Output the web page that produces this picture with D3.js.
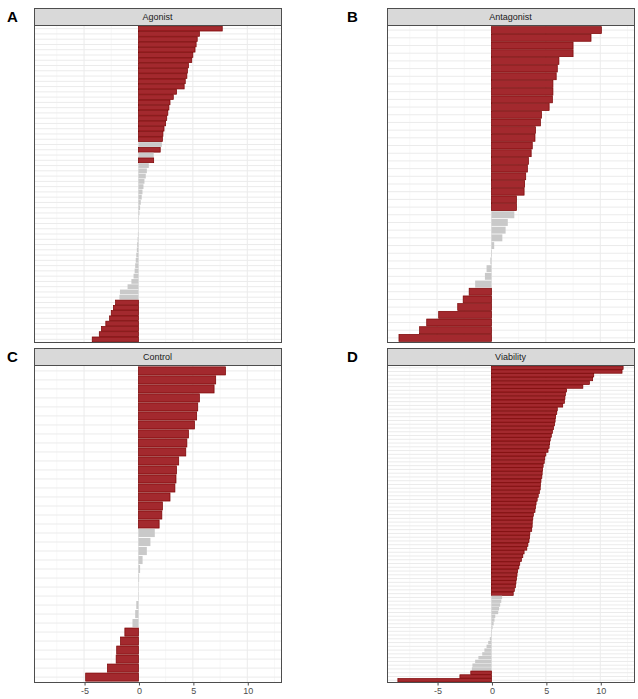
<!DOCTYPE html>
<html>
<head>
<meta charset="utf-8">
<script src="https://cdn.jsdelivr.net/npm/d3@7"></script>
<style>
	body { margin: 0; background: #fff; }
	svg { display: block; font-family: "Liberation Sans", Arial, sans-serif; }
</style>
</head>
<body>
<script>

// panel titles and letters
var titles = ['Agonist', 'Antagonist', 'Control', 'Viability'];
var letters = ['A', 'B', 'C', 'D'];
var xTicks = [-5, 0, 5, 10];

// sorted effect values per screen (top row first)
var agonistValues = [7.7, 5.6, 5.4, 5.3, 5.2, 5.0, 4.9, 4.6, 4.5, 4.45, 4.3, 4.2, 3.5, 3.2, 2.9, 2.8, 2.7, 2.6, 2.5, 2.35, 2.25, 2.2,
	2.15, 2.0, 1.4, 1.4,
	0.95, 0.77, 0.67, 0.55, 0.46, 0.37, 0.3, 0.21, 0.15, 0.09, 0.04, 0.01, -0.02, -0.05, -0.08, -0.12, -0.15, -0.2, -0.25, -0.3, -0.35, -0.45, -0.65, -1.0, -1.7, -1.75,
	-2.1, -2.3, -2.5, -2.65, -3.0, -3.4, -3.6, -4.25];
var agonistSig = [1,1,1,1,1,1,1,1,1,1,1,1,1,1,1,1,1,1,1,1,1,1,
	0,1,0,1,
	0,0,0,0,0,0,0,0,0,0,0,0,0,0,0,0,0,0,0,0,0,0,0,0,0,0,
	1,1,1,1,1,1,1,1];

var antagonistValues = [10.1, 9.15, 7.5, 7.5, 6.2, 6.05, 5.95, 5.65, 5.65, 5.6, 5.3, 4.6, 4.5, 4.05, 4.0, 3.75, 3.65, 3.4, 3.3, 3.15, 3.05, 3.0, 2.3, 2.3,
	2.1, 1.5, 1.3, 1.0, 0.25, 0.05, -0.1, -0.45, -0.6, -1.5,
	-2.05, -2.6, -3.1, -4.85, -5.95, -6.6, -8.5];
var antagonistSig = [1,1,1,1,1,1,1,1,1,1,1,1,1,1,1,1,1,1,1,1,1,1,1,1,
	0,0,0,0,0,0,0,0,0,0,
	1,1,1,1,1,1,1];

var controlValues = [8.0, 7.1, 6.95, 5.6, 5.45, 5.35, 5.15, 4.6, 4.45, 4.35, 3.7, 3.5, 3.45, 3.35, 2.9, 2.2, 2.15, 1.9,
	1.5, 1.1, 0.77, 0.38, 0.15, 0.06, 0.02, -0.03, -0.2, -0.3, -0.55,
	-1.25, -1.65, -2.0, -2.05, -2.85, -4.85];
var controlSig = [1,1,1,1,1,1,1,1,1,1,1,1,1,1,1,1,1,1,
	0,0,0,0,0,0,0,0,0,0,0,
	1,1,1,1,1,1];

var viabilityValues = [12.1, 12.0, 9.4, 9.3, 9.0, 8.4, 6.9, 6.8, 6.75, 6.7, 6.55, 6.05, 6.0, 5.9, 5.85, 5.8, 5.7, 5.6, 5.5, 5.4,
	5.35, 5.3, 5.2, 5.0, 4.9, 4.85, 4.75, 4.7, 4.66, 4.63, 4.55, 4.5, 4.48, 4.4, 4.3, 4.2, 4.1, 4.05, 4.0, 3.85,
	3.8, 3.75, 3.74, 3.7, 3.53, 3.5, 3.45, 3.35, 3.25, 3.0, 2.88, 2.75, 2.6, 2.52, 2.4, 2.35, 2.3, 2.25, 2.2, 2.1, 2.0,
	0.98, 0.9, 0.8, 0.7, 0.62, 0.35, 0.28, 0.2, 0.1, 0.05, -0.05, -0.15, -0.3, -0.45, -0.65, -0.85, -1.2, -1.5, -1.75, -1.8,
	-1.9, -2.9, -8.6];
var viabilitySig = [1,1,1,1,1,1,1,1,1,1,1,1,1,1,1,1,1,1,1,1,
	1,1,1,1,1,1,1,1,1,1,1,1,1,1,1,1,1,1,1,1,
	1,1,1,1,1,1,1,1,1,1,1,1,1,1,1,1,1,1,1,1,1,
	0,0,0,0,0,0,0,0,0,0,0,0,0,0,0,0,0,0,0,0,
	1,1,1];

(function(){

	var w = 638;
	var h = 699;
	var panelW = 247;
	var stripH = 17;
	var plotH = 317;

	var allValues = [agonistValues, antagonistValues, controlValues, viabilityValues];
	var allSig = [agonistSig, antagonistSig, controlSig, viabilitySig];
	var lefts = [34, 387, 34, 387];
	var tops = [8, 8, 348, 348];

	var svg = d3.select('body')
				.append('svg')
				.attr('width', w)
				.attr('height', h);

	// shared x scale across facets
	var x = d3.scaleLinear()
		.domain([-9.6, 13.1])
		.range([0, panelW]);

	var minorTicks = [-7.5, -2.5, 2.5, 7.5, 12.5];

	for (var p = 0; p < 4; p++) {

		var values = allValues[p];
		var sig = allSig[p];
		var rows = values.map(function(d, i){ return i; });

		var g = svg.append('g')
			.attr('transform', 'translate(' + lefts[p] + ',' + tops[p] + ')');

		// strip
		g.append('rect')
			.attr('x', 0.5)
			.attr('y', 0.5)
			.attr('width', panelW)
			.attr('height', stripH)
			.attr('fill', '#d9d9d9')
			.attr('stroke', '#4d4d4d')
			.attr('stroke-width', 1);

		g.append('text')
			.attr('x', panelW / 2)
			.attr('y', stripH / 2 + 0.5)
			.attr('text-anchor', 'middle')
			.attr('dominant-baseline', 'central')
			.attr('font-size', 9)
			.attr('fill', '#1a1a1a')
			.text(titles[p]);

		var plot = g.append('g')
			.attr('transform', 'translate(0,' + (stripH + 0.5) + ')');

		var y = d3.scaleBand()
			.domain(rows)
			.range([0, plotH])
			.paddingInner(0.1)
			.paddingOuter(0.15);

		plot.append('rect')
			.attr('x', 0.5)
			.attr('y', 0)
			.attr('width', panelW)
			.attr('height', plotH)
			.attr('fill', '#fff');

		// grid
		plot.selectAll('line.minor')
			.data(minorTicks)
			.enter()
			.append('line')
			.attr('x1', function(d){ return x(d); })
			.attr('x2', function(d){ return x(d); })
			.attr('y1', 0)
			.attr('y2', plotH)
			.attr('stroke', '#f2f2f2')
			.attr('stroke-width', 0.6);

		plot.selectAll('line.major')
			.data(xTicks)
			.enter()
			.append('line')
			.attr('x1', function(d){ return x(d); })
			.attr('x2', function(d){ return x(d); })
			.attr('y1', 0)
			.attr('y2', plotH)
			.attr('stroke', '#ebebeb')
			.attr('stroke-width', 1);

		plot.selectAll('line.row')
			.data(rows)
			.enter()
			.append('line')
			.attr('x1', 0)
			.attr('x2', panelW)
			.attr('y1', function(d){ return y(d) + y.bandwidth() / 2; })
			.attr('y2', function(d){ return y(d) + y.bandwidth() / 2; })
			.attr('stroke', '#ebebeb')
			.attr('stroke-width', 1);

		// bars
		plot.selectAll('rect.bar')
			.data(values)
			.enter()
			.append('rect')
			.attr('class', 'bar')
			.attr('x', function(d){ return x(Math.min(0, d)); })
			.attr('y', function(d, i){ return y(i); })
			.attr('width', function(d){ return Math.abs(x(d) - x(0)); })
			.attr('height', y.bandwidth())
			.attr('fill', function(d, i){ return sig[i] ? '#a3292e' : '#c9c9c9'; })
			.attr('stroke', function(d, i){ return sig[i] ? '#7a0000' : 'none'; })
			.attr('stroke-width', 0.7);

		// border
		plot.append('rect')
			.attr('x', 0.5)
			.attr('y', 0)
			.attr('width', panelW)
			.attr('height', plotH)
			.attr('fill', 'none')
			.attr('stroke', '#4d4d4d')
			.attr('stroke-width', 1);

		// x axis only on the bottom row
		if (p >= 2) {
			var axis = plot.append('g')
				.attr('transform', 'translate(0.5,' + plotH + ')')
				.call(d3.axisBottom(x).tickValues(xTicks).tickSize(3).tickPadding(2)
					.tickFormat(function(d){ return d; }));
			axis.select('.domain').remove();
			axis.selectAll('line').attr('stroke', '#4d4d4d');
			axis.selectAll('text')
				.attr('fill', '#4d4d4d')
				.attr('font-size', 9)
				.attr('font-family', '"Liberation Sans", Arial, sans-serif');
		}

		// panel letter
		svg.append('text')
			.attr('x', p % 2 === 0 ? 7 : 347)
			.attr('y', tops[p] + 14)
			.attr('font-size', 15)
			.attr('font-weight', 'bold')
			.attr('fill', '#000')
			.text(letters[p]);
	}

})();

</script>
</body>
</html>
